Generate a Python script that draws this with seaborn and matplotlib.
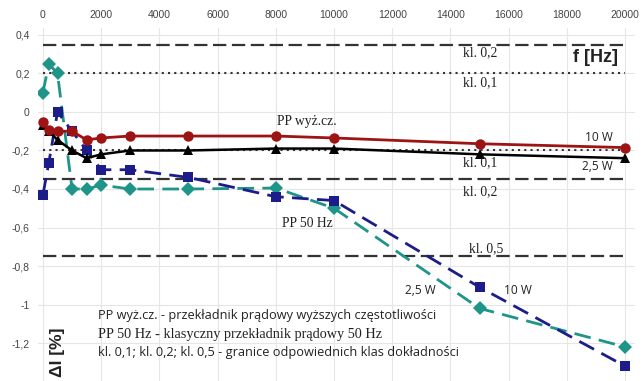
import numpy as np
import pandas as pd
import matplotlib
matplotlib.use("Agg")
import matplotlib.pyplot as plt
import seaborn as sns
from matplotlib.ticker import FuncFormatter, MultipleLocator

# ---- data ----
freq = [0, 200, 500, 1000, 1500, 2000, 3000, 5000, 8000, 10000, 15000, 20000]
hf_10W = [-0.05, -0.095, -0.10, -0.10, -0.145, -0.135, -0.125, -0.125, -0.125, -0.135, -0.165, -0.185]
hf_25W = [-0.07, -0.10, -0.145, -0.20, -0.24, -0.22, -0.20, -0.20, -0.19, -0.19, -0.22, -0.24]
lf_10W = [-0.43, -0.265, 0.0, -0.10, -0.20, -0.30, -0.30, -0.34, -0.44, -0.46, -0.91, -1.32]
lf_25W = [0.10, 0.25, 0.20, -0.40, -0.40, -0.38, -0.40, -0.40, -0.395, -0.50, -1.02, -1.22]
class_limits = {"kl02": 0.35, "kl01": 0.20, "kl05": -0.75}
x_ticks = list(range(0, 20001, 2000))
y_ticks = [0.4, 0.2, 0, -0.2, -0.4, -0.6, -0.8, -1, -1.2]

sns.set_theme(style="white")
plt.rcParams["font.family"] = ["Liberation Sans", "DejaVu Sans"]

fig = plt.figure(figsize=(6.43, 3.81), dpi=100)
ax = fig.add_axes([38/643, 0.0, (635-38)/643, (381-28)/381])

# class limit lines
lim_col = "#333333"
xs = [0, 20000]
for v in [class_limits["kl02"], -class_limits["kl02"]]:
    sns.lineplot(x=xs, y=[v, v], ax=ax, color=lim_col, lw=1.6, linestyle=(0, (6, 2.5)))
for v in [class_limits["kl01"], -class_limits["kl01"]]:
    sns.lineplot(x=xs, y=[v, v], ax=ax, color=lim_col, lw=1.5, linestyle=(0, (1, 2)))
sns.lineplot(x=xs, y=[class_limits["kl05"]] * 2, ax=ax, color=lim_col, lw=1.6, linestyle=(0, (6, 2.5)))

# series
teal = "#1f9488"
navy = "#1c1c8a"
red = "#9c1414"
sns.lineplot(x=freq, y=lf_25W, ax=ax, color=teal, lw=2.0, linestyle=(0, (6, 3)),
             marker="D", markersize=7, markeredgewidth=0, sort=False)
sns.lineplot(x=freq, y=lf_10W, ax=ax, color=navy, lw=2.0, linestyle=(0, (6, 3)),
             marker="s", markersize=6.5, markeredgewidth=0, sort=False)
sns.lineplot(x=freq, y=hf_25W, ax=ax, color="black", lw=1.8,
             marker="^", markersize=6.5, markeredgewidth=0, sort=False)
sns.lineplot(x=freq, y=hf_10W, ax=ax, color=red, lw=2.0,
             marker="o", markersize=7.5, markeredgewidth=0, sort=False)

ax.set_xlim(-170, 20340)
ax.set_ylim(-1.397, 0.436)
ax.xaxis.tick_top()
ax.set_xticks(x_ticks)
ax.set_yticks(y_ticks)
ax.yaxis.set_major_formatter(FuncFormatter(lambda v, p: ("%g" % round(v, 2)).replace(".", ",")))
ax.tick_params(axis="both", length=0, labelsize=7.5, colors="#444444", pad=6)
ax.grid(True, color="#e6e6e6", lw=0.8)
for s in ax.spines.values():
    s.set_visible(False)

serif = ["Liberation Serif", "DejaVu Serif"]
sans2 = ["Open Sans", "DejaVu Sans"]
tc = "#222222"
kw = dict(ha="center", va="center", color=tc)
ax.text(15020, 0.31, "kl. 0,2", family=serif, fontsize=9.8, **kw)
ax.text(15020, 0.15, "kl. 0,1", family=serif, fontsize=9.8, **kw)
ax.text(15020, -0.265, "kl. 0,1", family=serif, fontsize=9.8, **kw)
ax.text(15020, -0.415, "kl. 0,2", family=serif, fontsize=9.8, **kw)
ax.text(15220, -0.71, "kl. 0,5", family=serif, fontsize=9.8, **kw)
ax.text(9070, -0.05, "PP wyż.cz.", family=serif, fontsize=9.8, **kw)
ax.text(9070, -0.58, "PP 50 Hz", family=serif, fontsize=9.8, **kw)
ax.text(18970, 0.285, "f [Hz]", fontsize=13, fontweight="bold", **kw)
ax.text(19100, -0.13, "10 W", family=sans2, fontsize=8.6, **kw)
ax.text(19040, -0.285, "2,5 W", family=sans2, fontsize=8.6, **kw)
ax.text(12960, -0.927, "2,5 W", family=sans2, fontsize=8.6, **kw)
ax.text(16320, -0.927, "10 W", family=sans2, fontsize=8.6, **kw)
ax.text(1890, -1.057, "PP wyż.cz. - przekładnik prądowy wyższych częstotliwości",
        family=sans2, fontsize=9.2, ha="left", va="center", color=tc)
ax.text(1890, -1.155, "PP 50 Hz - klasyczny przekładnik prądowy 50 Hz",
        family=serif, fontsize=10.3, ha="left", va="center", color=tc)
ax.text(1890, -1.249, "kl. 0,1; kl. 0,2; kl. 0,5 - granice odpowiednich klas dokładności",
        family=sans2, fontsize=9.2, ha="left", va="center", color=tc)
ax.text(500, -1.25, "ΔI [%]", rotation=90, fontsize=12.5, fontweight="bold", **kw)

fig.savefig("out.png", dpi=100)
